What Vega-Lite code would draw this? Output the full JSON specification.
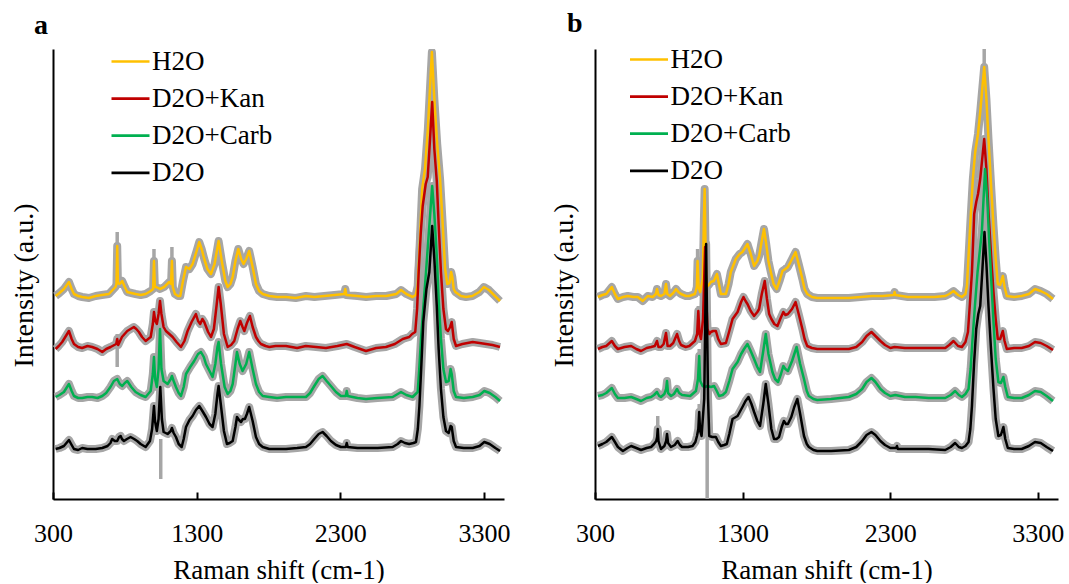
{
"$schema": "https://vega.github.io/schema/vega-lite/v6.json",
"autosize": {"type": "pad"},
"padding": {"left": 10, "top": 10, "right": 0, "bottom": 0},
"background": "white",
"bounds": "flush",
"spacing": 91,
"config": {
  "font": "Liberation Serif",
  "numberFormat": "d",
  "view": {"stroke": null},
  "axis": {"grid": false, "domainColor": "#000", "domainWidth": 2, "labelFont": "Liberation Serif", "titleFont": "Liberation Serif", "labelColor": "#000", "titleColor": "#000", "titleFontWeight": "normal"},
  "axisX": {"labelFontSize": 26, "titleFontSize": 27, "tickSize": -7, "tickWidth": 2, "tickColor": "#000", "labelPadding": 49, "labelBaseline": "alphabetic", "titleY": 79, "titleBaseline": "alphabetic", "labelFlush": false, "labelOverlap": false},
  "axisY": {"labels": false, "ticks": false, "titleFontSize": 28, "titleY": 236, "titleBaseline": "middle", "titleAngle": -90, "titleAlign": "center"},
  "legend": {"labelFont": "Liberation Serif", "labelColor": "#000", "labelFontSize": 27, "symbolType": "stroke", "symbolSize": 1444, "symbolStrokeWidth": 2.7, "rowPadding": 3.1, "labelOffset": 1, "padding": 0, "title": null},
  "title": {"font": "Liberation Serif", "fontSize": 28, "fontWeight": "bold", "color": "#000", "anchor": "start", "frame": "group", "baseline": "alphabetic", "offset": 1}
},
"resolve": {"scale": {"x": "independent", "y": "independent", "color": "independent"}, "legend": {"color": "independent"}},
"datasets": {
"a": [
{"s":"H2O","wn":318,"v":203},{"s":"H2O","wn":345,"v":206},{"s":"H2O","wn":376,"v":210},{"s":"H2O","wn":411,"v":217},{"s":"H2O","wn":430,"v":210},{"s":"H2O","wn":446,"v":205},{"s":"H2O","wn":475,"v":203},{"s":"H2O","wn":503,"v":202},{"s":"H2O","wn":550,"v":201},{"s":"H2O","wn":597,"v":203},{"s":"H2O","wn":640,"v":204},{"s":"H2O","wn":689,"v":205},{"s":"H2O","wn":715,"v":209},{"s":"H2O","wn":735,"v":212},{"s":"H2O","wn":742,"v":215},{"s":"H2O","wn":747,"v":253},{"s":"H2O","wn":752,"v":216},{"s":"H2O","wn":764,"v":215},{"s":"H2O","wn":782,"v":218},{"s":"H2O","wn":800,"v":212},{"s":"H2O","wn":817,"v":207},{"s":"H2O","wn":845,"v":206},{"s":"H2O","wn":875,"v":205},{"s":"H2O","wn":910,"v":204},{"s":"H2O","wn":945,"v":205},{"s":"H2O","wn":980,"v":208},{"s":"H2O","wn":997,"v":210},{"s":"H2O","wn":1003,"v":238},{"s":"H2O","wn":1009,"v":212},{"s":"H2O","wn":1019,"v":212},{"s":"H2O","wn":1045,"v":210},{"s":"H2O","wn":1074,"v":212},{"s":"H2O","wn":1109,"v":217},{"s":"H2O","wn":1122,"v":215},{"s":"H2O","wn":1128,"v":238},{"s":"H2O","wn":1134,"v":212},{"s":"H2O","wn":1149,"v":205},{"s":"H2O","wn":1170,"v":203},{"s":"H2O","wn":1186,"v":203},{"s":"H2O","wn":1205,"v":218},{"s":"H2O","wn":1226,"v":232},{"s":"H2O","wn":1250,"v":230},{"s":"H2O","wn":1272,"v":235},{"s":"H2O","wn":1300,"v":248},{"s":"H2O","wn":1318,"v":257},{"s":"H2O","wn":1335,"v":250},{"s":"H2O","wn":1353,"v":240},{"s":"H2O","wn":1375,"v":230},{"s":"H2O","wn":1400,"v":225},{"s":"H2O","wn":1425,"v":235},{"s":"H2O","wn":1453,"v":258},{"s":"H2O","wn":1475,"v":238},{"s":"H2O","wn":1500,"v":218},{"s":"H2O","wn":1516,"v":212},{"s":"H2O","wn":1535,"v":215},{"s":"H2O","wn":1551,"v":222},{"s":"H2O","wn":1570,"v":238},{"s":"H2O","wn":1590,"v":250},{"s":"H2O","wn":1610,"v":240},{"s":"H2O","wn":1627,"v":235},{"s":"H2O","wn":1645,"v":240},{"s":"H2O","wn":1666,"v":248},{"s":"H2O","wn":1690,"v":232},{"s":"H2O","wn":1713,"v":215},{"s":"H2O","wn":1735,"v":208},{"s":"H2O","wn":1760,"v":205},{"s":"H2O","wn":1806,"v":203},{"s":"H2O","wn":1860,"v":202},{"s":"H2O","wn":1922,"v":202},{"s":"H2O","wn":1990,"v":201},{"s":"H2O","wn":2061,"v":203},{"s":"H2O","wn":2120,"v":202},{"s":"H2O","wn":2189,"v":203},{"s":"H2O","wn":2260,"v":204},{"s":"H2O","wn":2328,"v":205},{"s":"H2O","wn":2335,"v":210},{"s":"H2O","wn":2342,"v":204},{"s":"H2O","wn":2420,"v":203},{"s":"H2O","wn":2480,"v":202},{"s":"H2O","wn":2549,"v":203},{"s":"H2O","wn":2620,"v":203},{"s":"H2O","wn":2690,"v":205},{"s":"H2O","wn":2723,"v":209},{"s":"H2O","wn":2760,"v":205},{"s":"H2O","wn":2804,"v":202},{"s":"H2O","wn":2825,"v":204},{"s":"H2O","wn":2839,"v":213},{"s":"H2O","wn":2855,"v":260},{"s":"H2O","wn":2870,"v":310},{"s":"H2O","wn":2890,"v":330},{"s":"H2O","wn":2910,"v":370},{"s":"H2O","wn":2938,"v":447},{"s":"H2O","wn":2955,"v":400},{"s":"H2O","wn":2975,"v":355},{"s":"H2O","wn":2995,"v":320},{"s":"H2O","wn":3015,"v":270},{"s":"H2O","wn":3030,"v":230},{"s":"H2O","wn":3045,"v":215},{"s":"H2O","wn":3060,"v":216},{"s":"H2O","wn":3072,"v":227},{"s":"H2O","wn":3080,"v":222},{"s":"H2O","wn":3090,"v":210},{"s":"H2O","wn":3101,"v":207},{"s":"H2O","wn":3140,"v":203},{"s":"H2O","wn":3175,"v":202},{"s":"H2O","wn":3220,"v":203},{"s":"H2O","wn":3268,"v":207},{"s":"H2O","wn":3300,"v":212},{"s":"H2O","wn":3335,"v":209},{"s":"H2O","wn":3370,"v":204},{"s":"H2O","wn":3412,"v":198},
{"s":"D2O+Kan","wn":318,"v":150},{"s":"D2O+Kan","wn":340,"v":153},{"s":"D2O+Kan","wn":364,"v":157},{"s":"D2O+Kan","wn":411,"v":168},{"s":"D2O+Kan","wn":430,"v":160},{"s":"D2O+Kan","wn":446,"v":155},{"s":"D2O+Kan","wn":475,"v":152},{"s":"D2O+Kan","wn":503,"v":151},{"s":"D2O+Kan","wn":540,"v":153},{"s":"D2O+Kan","wn":573,"v":152},{"s":"D2O+Kan","wn":610,"v":150},{"s":"D2O+Kan","wn":643,"v":147},{"s":"D2O+Kan","wn":670,"v":150},{"s":"D2O+Kan","wn":701,"v":152},{"s":"D2O+Kan","wn":740,"v":155},{"s":"D2O+Kan","wn":747,"v":160},{"s":"D2O+Kan","wn":754,"v":154},{"s":"D2O+Kan","wn":780,"v":162},{"s":"D2O+Kan","wn":817,"v":168},{"s":"D2O+Kan","wn":840,"v":170},{"s":"D2O+Kan","wn":863,"v":172},{"s":"D2O+Kan","wn":880,"v":170},{"s":"D2O+Kan","wn":898,"v":167},{"s":"D2O+Kan","wn":920,"v":162},{"s":"D2O+Kan","wn":945,"v":158},{"s":"D2O+Kan","wn":980,"v":162},{"s":"D2O+Kan","wn":995,"v":175},{"s":"D2O+Kan","wn":1003,"v":187},{"s":"D2O+Kan","wn":1012,"v":178},{"s":"D2O+Kan","wn":1023,"v":175},{"s":"D2O+Kan","wn":1035,"v":185},{"s":"D2O+Kan","wn":1045,"v":198},{"s":"D2O+Kan","wn":1055,"v":185},{"s":"D2O+Kan","wn":1070,"v":172},{"s":"D2O+Kan","wn":1086,"v":168},{"s":"D2O+Kan","wn":1110,"v":165},{"s":"D2O+Kan","wn":1133,"v":162},{"s":"D2O+Kan","wn":1160,"v":157},{"s":"D2O+Kan","wn":1191,"v":152},{"s":"D2O+Kan","wn":1215,"v":158},{"s":"D2O+Kan","wn":1237,"v":168},{"s":"D2O+Kan","wn":1265,"v":177},{"s":"D2O+Kan","wn":1295,"v":185},{"s":"D2O+Kan","wn":1310,"v":178},{"s":"D2O+Kan","wn":1325,"v":175},{"s":"D2O+Kan","wn":1340,"v":180},{"s":"D2O+Kan","wn":1353,"v":177},{"s":"D2O+Kan","wn":1380,"v":167},{"s":"D2O+Kan","wn":1400,"v":162},{"s":"D2O+Kan","wn":1420,"v":170},{"s":"D2O+Kan","wn":1440,"v":195},{"s":"D2O+Kan","wn":1453,"v":212},{"s":"D2O+Kan","wn":1468,"v":195},{"s":"D2O+Kan","wn":1490,"v":165},{"s":"D2O+Kan","wn":1516,"v":152},{"s":"D2O+Kan","wn":1540,"v":154},{"s":"D2O+Kan","wn":1562,"v":158},{"s":"D2O+Kan","wn":1585,"v":170},{"s":"D2O+Kan","wn":1604,"v":178},{"s":"D2O+Kan","wn":1620,"v":172},{"s":"D2O+Kan","wn":1632,"v":168},{"s":"D2O+Kan","wn":1650,"v":176},{"s":"D2O+Kan","wn":1671,"v":183},{"s":"D2O+Kan","wn":1690,"v":172},{"s":"D2O+Kan","wn":1713,"v":162},{"s":"D2O+Kan","wn":1730,"v":158},{"s":"D2O+Kan","wn":1748,"v":155},{"s":"D2O+Kan","wn":1780,"v":153},{"s":"D2O+Kan","wn":1806,"v":152},{"s":"D2O+Kan","wn":1850,"v":153},{"s":"D2O+Kan","wn":1922,"v":153},{"s":"D2O+Kan","wn":2000,"v":151},{"s":"D2O+Kan","wn":2060,"v":153},{"s":"D2O+Kan","wn":2131,"v":152},{"s":"D2O+Kan","wn":2200,"v":151},{"s":"D2O+Kan","wn":2280,"v":153},{"s":"D2O+Kan","wn":2345,"v":155},{"s":"D2O+Kan","wn":2400,"v":152},{"s":"D2O+Kan","wn":2479,"v":148},{"s":"D2O+Kan","wn":2550,"v":151},{"s":"D2O+Kan","wn":2618,"v":152},{"s":"D2O+Kan","wn":2680,"v":155},{"s":"D2O+Kan","wn":2735,"v":160},{"s":"D2O+Kan","wn":2780,"v":162},{"s":"D2O+Kan","wn":2800,"v":165},{"s":"D2O+Kan","wn":2822,"v":167},{"s":"D2O+Kan","wn":2835,"v":190},{"s":"D2O+Kan","wn":2846,"v":227},{"s":"D2O+Kan","wn":2860,"v":265},{"s":"D2O+Kan","wn":2874,"v":293},{"s":"D2O+Kan","wn":2895,"v":315},{"s":"D2O+Kan","wn":2909,"v":322},{"s":"D2O+Kan","wn":2925,"v":360},{"s":"D2O+Kan","wn":2940,"v":397},{"s":"D2O+Kan","wn":2955,"v":350},{"s":"D2O+Kan","wn":2972,"v":318},{"s":"D2O+Kan","wn":2985,"v":275},{"s":"D2O+Kan","wn":3001,"v":227},{"s":"D2O+Kan","wn":3018,"v":190},{"s":"D2O+Kan","wn":3036,"v":170},{"s":"D2O+Kan","wn":3050,"v":168},{"s":"D2O+Kan","wn":3065,"v":172},{"s":"D2O+Kan","wn":3076,"v":177},{"s":"D2O+Kan","wn":3090,"v":160},{"s":"D2O+Kan","wn":3106,"v":153},{"s":"D2O+Kan","wn":3150,"v":155},{"s":"D2O+Kan","wn":3222,"v":157},{"s":"D2O+Kan","wn":3270,"v":156},{"s":"D2O+Kan","wn":3315,"v":155},{"s":"D2O+Kan","wn":3360,"v":154},{"s":"D2O+Kan","wn":3412,"v":152},
{"s":"D2O+Carb","wn":318,"v":102},{"s":"D2O+Carb","wn":345,"v":104},{"s":"D2O+Carb","wn":376,"v":107},{"s":"D2O+Carb","wn":411,"v":115},{"s":"D2O+Carb","wn":430,"v":108},{"s":"D2O+Carb","wn":446,"v":103},{"s":"D2O+Carb","wn":475,"v":101},{"s":"D2O+Carb","wn":503,"v":101},{"s":"D2O+Carb","wn":540,"v":102},{"s":"D2O+Carb","wn":573,"v":102},{"s":"D2O+Carb","wn":610,"v":101},{"s":"D2O+Carb","wn":643,"v":103},{"s":"D2O+Carb","wn":670,"v":106},{"s":"D2O+Carb","wn":700,"v":112},{"s":"D2O+Carb","wn":724,"v":118},{"s":"D2O+Carb","wn":747,"v":120},{"s":"D2O+Carb","wn":765,"v":115},{"s":"D2O+Carb","wn":782,"v":113},{"s":"D2O+Carb","wn":800,"v":116},{"s":"D2O+Carb","wn":817,"v":118},{"s":"D2O+Carb","wn":845,"v":112},{"s":"D2O+Carb","wn":875,"v":107},{"s":"D2O+Carb","wn":910,"v":104},{"s":"D2O+Carb","wn":945,"v":102},{"s":"D2O+Carb","wn":980,"v":108},{"s":"D2O+Carb","wn":995,"v":125},{"s":"D2O+Carb","wn":1003,"v":142},{"s":"D2O+Carb","wn":1011,"v":120},{"s":"D2O+Carb","wn":1023,"v":112},{"s":"D2O+Carb","wn":1035,"v":130},{"s":"D2O+Carb","wn":1045,"v":170},{"s":"D2O+Carb","wn":1055,"v":130},{"s":"D2O+Carb","wn":1070,"v":118},{"s":"D2O+Carb","wn":1098,"v":115},{"s":"D2O+Carb","wn":1120,"v":120},{"s":"D2O+Carb","wn":1128,"v":123},{"s":"D2O+Carb","wn":1140,"v":118},{"s":"D2O+Carb","wn":1156,"v":112},{"s":"D2O+Carb","wn":1175,"v":106},{"s":"D2O+Carb","wn":1191,"v":103},{"s":"D2O+Carb","wn":1210,"v":112},{"s":"D2O+Carb","wn":1226,"v":125},{"s":"D2O+Carb","wn":1255,"v":132},{"s":"D2O+Carb","wn":1283,"v":138},{"s":"D2O+Carb","wn":1310,"v":145},{"s":"D2O+Carb","wn":1330,"v":147},{"s":"D2O+Carb","wn":1350,"v":142},{"s":"D2O+Carb","wn":1365,"v":135},{"s":"D2O+Carb","wn":1390,"v":128},{"s":"D2O+Carb","wn":1411,"v":122},{"s":"D2O+Carb","wn":1430,"v":135},{"s":"D2O+Carb","wn":1445,"v":152},{"s":"D2O+Carb","wn":1453,"v":157},{"s":"D2O+Carb","wn":1470,"v":135},{"s":"D2O+Carb","wn":1495,"v":112},{"s":"D2O+Carb","wn":1516,"v":105},{"s":"D2O+Carb","wn":1535,"v":108},{"s":"D2O+Carb","wn":1551,"v":115},{"s":"D2O+Carb","wn":1570,"v":135},{"s":"D2O+Carb","wn":1581,"v":147},{"s":"D2O+Carb","wn":1600,"v":135},{"s":"D2O+Carb","wn":1620,"v":128},{"s":"D2O+Carb","wn":1645,"v":135},{"s":"D2O+Carb","wn":1666,"v":147},{"s":"D2O+Carb","wn":1690,"v":130},{"s":"D2O+Carb","wn":1713,"v":115},{"s":"D2O+Carb","wn":1735,"v":107},{"s":"D2O+Carb","wn":1760,"v":103},{"s":"D2O+Carb","wn":1806,"v":102},{"s":"D2O+Carb","wn":1860,"v":101},{"s":"D2O+Carb","wn":1922,"v":102},{"s":"D2O+Carb","wn":2000,"v":102},{"s":"D2O+Carb","wn":2061,"v":102},{"s":"D2O+Carb","wn":2090,"v":106},{"s":"D2O+Carb","wn":2119,"v":113},{"s":"D2O+Carb","wn":2150,"v":120},{"s":"D2O+Carb","wn":2177,"v":123},{"s":"D2O+Carb","wn":2205,"v":118},{"s":"D2O+Carb","wn":2235,"v":113},{"s":"D2O+Carb","wn":2270,"v":107},{"s":"D2O+Carb","wn":2305,"v":103},{"s":"D2O+Carb","wn":2338,"v":103},{"s":"D2O+Carb","wn":2345,"v":108},{"s":"D2O+Carb","wn":2352,"v":103},{"s":"D2O+Carb","wn":2420,"v":101},{"s":"D2O+Carb","wn":2479,"v":100},{"s":"D2O+Carb","wn":2560,"v":101},{"s":"D2O+Carb","wn":2665,"v":102},{"s":"D2O+Carb","wn":2700,"v":105},{"s":"D2O+Carb","wn":2723,"v":107},{"s":"D2O+Carb","wn":2760,"v":104},{"s":"D2O+Carb","wn":2804,"v":102},{"s":"D2O+Carb","wn":2839,"v":107},{"s":"D2O+Carb","wn":2850,"v":130},{"s":"D2O+Carb","wn":2862,"v":160},{"s":"D2O+Carb","wn":2880,"v":195},{"s":"D2O+Carb","wn":2897,"v":227},{"s":"D2O+Carb","wn":2920,"v":273},{"s":"D2O+Carb","wn":2940,"v":313},{"s":"D2O+Carb","wn":2955,"v":285},{"s":"D2O+Carb","wn":2972,"v":243},{"s":"D2O+Carb","wn":2985,"v":200},{"s":"D2O+Carb","wn":3001,"v":160},{"s":"D2O+Carb","wn":3018,"v":130},{"s":"D2O+Carb","wn":3036,"v":117},{"s":"D2O+Carb","wn":3055,"v":118},{"s":"D2O+Carb","wn":3068,"v":130},{"s":"D2O+Carb","wn":3076,"v":125},{"s":"D2O+Carb","wn":3090,"v":108},{"s":"D2O+Carb","wn":3106,"v":102},{"s":"D2O+Carb","wn":3160,"v":101},{"s":"D2O+Carb","wn":3222,"v":102},{"s":"D2O+Carb","wn":3270,"v":104},{"s":"D2O+Carb","wn":3303,"v":108},{"s":"D2O+Carb","wn":3340,"v":106},{"s":"D2O+Carb","wn":3380,"v":102},{"s":"D2O+Carb","wn":3412,"v":98},
{"s":"D2O","wn":318,"v":50},{"s":"D2O","wn":345,"v":51},{"s":"D2O","wn":376,"v":53},{"s":"D2O","wn":411,"v":59},{"s":"D2O","wn":430,"v":54},{"s":"D2O","wn":446,"v":50},{"s":"D2O","wn":475,"v":49},{"s":"D2O","wn":503,"v":51},{"s":"D2O","wn":540,"v":50},{"s":"D2O","wn":597,"v":50},{"s":"D2O","wn":643,"v":51},{"s":"D2O","wn":680,"v":53},{"s":"D2O","wn":700,"v":56},{"s":"D2O","wn":712,"v":60},{"s":"D2O","wn":730,"v":58},{"s":"D2O","wn":747,"v":58},{"s":"D2O","wn":760,"v":62},{"s":"D2O","wn":771,"v":63},{"s":"D2O","wn":780,"v":60},{"s":"D2O","wn":794,"v":58},{"s":"D2O","wn":815,"v":60},{"s":"D2O","wn":840,"v":62},{"s":"D2O","wn":865,"v":60},{"s":"D2O","wn":886,"v":58},{"s":"D2O","wn":910,"v":55},{"s":"D2O","wn":945,"v":52},{"s":"D2O","wn":975,"v":58},{"s":"D2O","wn":990,"v":70},{"s":"D2O","wn":1003,"v":93},{"s":"D2O","wn":1010,"v":78},{"s":"D2O","wn":1023,"v":68},{"s":"D2O","wn":1035,"v":80},{"s":"D2O","wn":1047,"v":112},{"s":"D2O","wn":1058,"v":80},{"s":"D2O","wn":1070,"v":67},{"s":"D2O","wn":1098,"v":65},{"s":"D2O","wn":1120,"v":68},{"s":"D2O","wn":1128,"v":71},{"s":"D2O","wn":1140,"v":66},{"s":"D2O","wn":1156,"v":62},{"s":"D2O","wn":1175,"v":55},{"s":"D2O","wn":1196,"v":52},{"s":"D2O","wn":1210,"v":60},{"s":"D2O","wn":1226,"v":72},{"s":"D2O","wn":1250,"v":79},{"s":"D2O","wn":1272,"v":83},{"s":"D2O","wn":1295,"v":89},{"s":"D2O","wn":1318,"v":93},{"s":"D2O","wn":1340,"v":88},{"s":"D2O","wn":1365,"v":82},{"s":"D2O","wn":1390,"v":75},{"s":"D2O","wn":1411,"v":72},{"s":"D2O","wn":1430,"v":85},{"s":"D2O","wn":1445,"v":105},{"s":"D2O","wn":1453,"v":113},{"s":"D2O","wn":1468,"v":95},{"s":"D2O","wn":1490,"v":68},{"s":"D2O","wn":1511,"v":55},{"s":"D2O","wn":1530,"v":56},{"s":"D2O","wn":1551,"v":58},{"s":"D2O","wn":1570,"v":72},{"s":"D2O","wn":1581,"v":82},{"s":"D2O","wn":1595,"v":79},{"s":"D2O","wn":1609,"v":77},{"s":"D2O","wn":1622,"v":80},{"s":"D2O","wn":1636,"v":80},{"s":"D2O","wn":1650,"v":85},{"s":"D2O","wn":1666,"v":92},{"s":"D2O","wn":1690,"v":78},{"s":"D2O","wn":1713,"v":62},{"s":"D2O","wn":1735,"v":55},{"s":"D2O","wn":1760,"v":52},{"s":"D2O","wn":1806,"v":50},{"s":"D2O","wn":1860,"v":50},{"s":"D2O","wn":1922,"v":50},{"s":"D2O","wn":2000,"v":51},{"s":"D2O","wn":2061,"v":52},{"s":"D2O","wn":2090,"v":55},{"s":"D2O","wn":2119,"v":60},{"s":"D2O","wn":2150,"v":65},{"s":"D2O","wn":2177,"v":67},{"s":"D2O","wn":2205,"v":63},{"s":"D2O","wn":2235,"v":58},{"s":"D2O","wn":2270,"v":54},{"s":"D2O","wn":2305,"v":52},{"s":"D2O","wn":2338,"v":52},{"s":"D2O","wn":2345,"v":56},{"s":"D2O","wn":2352,"v":52},{"s":"D2O","wn":2420,"v":51},{"s":"D2O","wn":2479,"v":51},{"s":"D2O","wn":2560,"v":51},{"s":"D2O","wn":2665,"v":52},{"s":"D2O","wn":2700,"v":55},{"s":"D2O","wn":2723,"v":58},{"s":"D2O","wn":2750,"v":56},{"s":"D2O","wn":2780,"v":55},{"s":"D2O","wn":2810,"v":56},{"s":"D2O","wn":2827,"v":57},{"s":"D2O","wn":2840,"v":70},{"s":"D2O","wn":2851,"v":93},{"s":"D2O","wn":2865,"v":135},{"s":"D2O","wn":2878,"v":177},{"s":"D2O","wn":2900,"v":210},{"s":"D2O","wn":2920,"v":227},{"s":"D2O","wn":2940,"v":273},{"s":"D2O","wn":2955,"v":240},{"s":"D2O","wn":2972,"v":193},{"s":"D2O","wn":2985,"v":150},{"s":"D2O","wn":3001,"v":110},{"s":"D2O","wn":3018,"v":82},{"s":"D2O","wn":3036,"v":68},{"s":"D2O","wn":3055,"v":66},{"s":"D2O","wn":3068,"v":73},{"s":"D2O","wn":3076,"v":72},{"s":"D2O","wn":3090,"v":58},{"s":"D2O","wn":3106,"v":52},{"s":"D2O","wn":3160,"v":51},{"s":"D2O","wn":3222,"v":51},{"s":"D2O","wn":3270,"v":53},{"s":"D2O","wn":3303,"v":57},{"s":"D2O","wn":3340,"v":55},{"s":"D2O","wn":3380,"v":51},{"s":"D2O","wn":3412,"v":48}
],
"sa": [
{"s":"H2O","wn":747,"lo":250,"hi":267},{"s":"H2O","wn":1003,"lo":235,"hi":250},{"s":"H2O","wn":1128,"lo":235,"hi":252},{"s":"H2O","wn":2938,"lo":440,"hi":450},{"s":"D2O+Kan","wn":747,"lo":132,"hi":165},{"s":"D2O","wn":1050,"lo":20,"hi":60}
],
"b": [
{"s":"H2O","wn":320,"v":202},{"s":"H2O","wn":350,"v":204},{"s":"H2O","wn":376,"v":205},{"s":"H2O","wn":414,"v":212},{"s":"H2O","wn":435,"v":205},{"s":"H2O","wn":455,"v":200},{"s":"H2O","wn":490,"v":202},{"s":"H2O","wn":522,"v":203},{"s":"H2O","wn":560,"v":202},{"s":"H2O","wn":590,"v":202},{"s":"H2O","wn":624,"v":198},{"s":"H2O","wn":657,"v":203},{"s":"H2O","wn":691,"v":202},{"s":"H2O","wn":712,"v":205},{"s":"H2O","wn":720,"v":210},{"s":"H2O","wn":730,"v":204},{"s":"H2O","wn":747,"v":203},{"s":"H2O","wn":770,"v":205},{"s":"H2O","wn":781,"v":215},{"s":"H2O","wn":790,"v":205},{"s":"H2O","wn":808,"v":203},{"s":"H2O","wn":830,"v":206},{"s":"H2O","wn":849,"v":210},{"s":"H2O","wn":865,"v":207},{"s":"H2O","wn":883,"v":205},{"s":"H2O","wn":915,"v":203},{"s":"H2O","wn":939,"v":203},{"s":"H2O","wn":977,"v":205},{"s":"H2O","wn":990,"v":212},{"s":"H2O","wn":995,"v":238},{"s":"H2O","wn":1002,"v":212},{"s":"H2O","wn":1013,"v":207},{"s":"H2O","wn":1030,"v":220},{"s":"H2O","wn":1038,"v":280},{"s":"H2O","wn":1043,"v":310},{"s":"H2O","wn":1049,"v":250},{"s":"H2O","wn":1055,"v":212},{"s":"H2O","wn":1070,"v":214},{"s":"H2O","wn":1085,"v":217},{"s":"H2O","wn":1105,"v":218},{"s":"H2O","wn":1126,"v":225},{"s":"H2O","wn":1140,"v":215},{"s":"H2O","wn":1153,"v":205},{"s":"H2O","wn":1187,"v":205},{"s":"H2O","wn":1205,"v":215},{"s":"H2O","wn":1220,"v":227},{"s":"H2O","wn":1254,"v":240},{"s":"H2O","wn":1280,"v":245},{"s":"H2O","wn":1299,"v":247},{"s":"H2O","wn":1320,"v":252},{"s":"H2O","wn":1333,"v":255},{"s":"H2O","wn":1355,"v":245},{"s":"H2O","wn":1378,"v":233},{"s":"H2O","wn":1400,"v":238},{"s":"H2O","wn":1412,"v":243},{"s":"H2O","wn":1430,"v":258},{"s":"H2O","wn":1445,"v":270},{"s":"H2O","wn":1460,"v":255},{"s":"H2O","wn":1475,"v":238},{"s":"H2O","wn":1491,"v":227},{"s":"H2O","wn":1510,"v":215},{"s":"H2O","wn":1531,"v":210},{"s":"H2O","wn":1550,"v":218},{"s":"H2O","wn":1570,"v":228},{"s":"H2O","wn":1590,"v":230},{"s":"H2O","wn":1607,"v":232},{"s":"H2O","wn":1635,"v":240},{"s":"H2O","wn":1659,"v":247},{"s":"H2O","wn":1680,"v":235},{"s":"H2O","wn":1705,"v":220},{"s":"H2O","wn":1720,"v":210},{"s":"H2O","wn":1738,"v":205},{"s":"H2O","wn":1770,"v":202},{"s":"H2O","wn":1806,"v":201},{"s":"H2O","wn":1900,"v":201},{"s":"H2O","wn":2020,"v":201},{"s":"H2O","wn":2100,"v":202},{"s":"H2O","wn":2178,"v":203},{"s":"H2O","wn":2250,"v":203},{"s":"H2O","wn":2324,"v":204},{"s":"H2O","wn":2330,"v":207},{"s":"H2O","wn":2336,"v":204},{"s":"H2O","wn":2420,"v":202},{"s":"H2O","wn":2516,"v":202},{"s":"H2O","wn":2600,"v":202},{"s":"H2O","wn":2673,"v":203},{"s":"H2O","wn":2700,"v":205},{"s":"H2O","wn":2729,"v":208},{"s":"H2O","wn":2760,"v":204},{"s":"H2O","wn":2786,"v":202},{"s":"H2O","wn":2810,"v":205},{"s":"H2O","wn":2820,"v":213},{"s":"H2O","wn":2842,"v":273},{"s":"H2O","wn":2860,"v":320},{"s":"H2O","wn":2876,"v":347},{"s":"H2O","wn":2895,"v":365},{"s":"H2O","wn":2910,"v":387},{"s":"H2O","wn":2937,"v":432},{"s":"H2O","wn":2952,"v":400},{"s":"H2O","wn":2966,"v":360},{"s":"H2O","wn":2985,"v":310},{"s":"H2O","wn":3000,"v":273},{"s":"H2O","wn":3015,"v":240},{"s":"H2O","wn":3029,"v":215},{"s":"H2O","wn":3045,"v":214},{"s":"H2O","wn":3063,"v":223},{"s":"H2O","wn":3075,"v":212},{"s":"H2O","wn":3090,"v":203},{"s":"H2O","wn":3140,"v":202},{"s":"H2O","wn":3191,"v":203},{"s":"H2O","wn":3240,"v":205},{"s":"H2O","wn":3281,"v":210},{"s":"H2O","wn":3320,"v":208},{"s":"H2O","wn":3360,"v":205},{"s":"H2O","wn":3403,"v":200},
{"s":"D2O+Kan","wn":320,"v":150},{"s":"D2O+Kan","wn":350,"v":152},{"s":"D2O+Kan","wn":376,"v":153},{"s":"D2O+Kan","wn":414,"v":158},{"s":"D2O+Kan","wn":435,"v":153},{"s":"D2O+Kan","wn":455,"v":150},{"s":"D2O+Kan","wn":500,"v":152},{"s":"D2O+Kan","wn":545,"v":153},{"s":"D2O+Kan","wn":580,"v":150},{"s":"D2O+Kan","wn":612,"v":148},{"s":"D2O+Kan","wn":650,"v":151},{"s":"D2O+Kan","wn":680,"v":152},{"s":"D2O+Kan","wn":705,"v":153},{"s":"D2O+Kan","wn":720,"v":158},{"s":"D2O+Kan","wn":730,"v":152},{"s":"D2O+Kan","wn":747,"v":152},{"s":"D2O+Kan","wn":765,"v":155},{"s":"D2O+Kan","wn":781,"v":166},{"s":"D2O+Kan","wn":792,"v":153},{"s":"D2O+Kan","wn":808,"v":153},{"s":"D2O+Kan","wn":830,"v":156},{"s":"D2O+Kan","wn":856,"v":165},{"s":"D2O+Kan","wn":870,"v":158},{"s":"D2O+Kan","wn":883,"v":154},{"s":"D2O+Kan","wn":915,"v":152},{"s":"D2O+Kan","wn":939,"v":153},{"s":"D2O+Kan","wn":977,"v":158},{"s":"D2O+Kan","wn":992,"v":165},{"s":"D2O+Kan","wn":1000,"v":188},{"s":"D2O+Kan","wn":1008,"v":165},{"s":"D2O+Kan","wn":1018,"v":160},{"s":"D2O+Kan","wn":1032,"v":180},{"s":"D2O+Kan","wn":1046,"v":252},{"s":"D2O+Kan","wn":1054,"v":200},{"s":"D2O+Kan","wn":1062,"v":170},{"s":"D2O+Kan","wn":1075,"v":165},{"s":"D2O+Kan","wn":1085,"v":167},{"s":"D2O+Kan","wn":1100,"v":168},{"s":"D2O+Kan","wn":1119,"v":168},{"s":"D2O+Kan","wn":1135,"v":160},{"s":"D2O+Kan","wn":1153,"v":155},{"s":"D2O+Kan","wn":1187,"v":156},{"s":"D2O+Kan","wn":1210,"v":168},{"s":"D2O+Kan","wn":1232,"v":180},{"s":"D2O+Kan","wn":1266,"v":187},{"s":"D2O+Kan","wn":1290,"v":197},{"s":"D2O+Kan","wn":1306,"v":202},{"s":"D2O+Kan","wn":1320,"v":198},{"s":"D2O+Kan","wn":1333,"v":195},{"s":"D2O+Kan","wn":1355,"v":188},{"s":"D2O+Kan","wn":1378,"v":183},{"s":"D2O+Kan","wn":1400,"v":187},{"s":"D2O+Kan","wn":1412,"v":190},{"s":"D2O+Kan","wn":1430,"v":205},{"s":"D2O+Kan","wn":1450,"v":218},{"s":"D2O+Kan","wn":1465,"v":200},{"s":"D2O+Kan","wn":1480,"v":185},{"s":"D2O+Kan","wn":1495,"v":180},{"s":"D2O+Kan","wn":1515,"v":175},{"s":"D2O+Kan","wn":1536,"v":173},{"s":"D2O+Kan","wn":1555,"v":180},{"s":"D2O+Kan","wn":1576,"v":187},{"s":"D2O+Kan","wn":1590,"v":184},{"s":"D2O+Kan","wn":1607,"v":185},{"s":"D2O+Kan","wn":1635,"v":190},{"s":"D2O+Kan","wn":1659,"v":197},{"s":"D2O+Kan","wn":1680,"v":185},{"s":"D2O+Kan","wn":1705,"v":170},{"s":"D2O+Kan","wn":1720,"v":160},{"s":"D2O+Kan","wn":1738,"v":153},{"s":"D2O+Kan","wn":1770,"v":151},{"s":"D2O+Kan","wn":1806,"v":150},{"s":"D2O+Kan","wn":1900,"v":150},{"s":"D2O+Kan","wn":2020,"v":150},{"s":"D2O+Kan","wn":2070,"v":152},{"s":"D2O+Kan","wn":2110,"v":157},{"s":"D2O+Kan","wn":2140,"v":163},{"s":"D2O+Kan","wn":2173,"v":167},{"s":"D2O+Kan","wn":2200,"v":163},{"s":"D2O+Kan","wn":2234,"v":158},{"s":"D2O+Kan","wn":2265,"v":154},{"s":"D2O+Kan","wn":2301,"v":151},{"s":"D2O+Kan","wn":2330,"v":152},{"s":"D2O+Kan","wn":2400,"v":151},{"s":"D2O+Kan","wn":2471,"v":151},{"s":"D2O+Kan","wn":2560,"v":151},{"s":"D2O+Kan","wn":2673,"v":151},{"s":"D2O+Kan","wn":2700,"v":154},{"s":"D2O+Kan","wn":2729,"v":158},{"s":"D2O+Kan","wn":2760,"v":153},{"s":"D2O+Kan","wn":2786,"v":152},{"s":"D2O+Kan","wn":2810,"v":157},{"s":"D2O+Kan","wn":2827,"v":167},{"s":"D2O+Kan","wn":2840,"v":195},{"s":"D2O+Kan","wn":2854,"v":227},{"s":"D2O+Kan","wn":2869,"v":285},{"s":"D2O+Kan","wn":2883,"v":297},{"s":"D2O+Kan","wn":2895,"v":305},{"s":"D2O+Kan","wn":2910,"v":320},{"s":"D2O+Kan","wn":2937,"v":360},{"s":"D2O+Kan","wn":2952,"v":330},{"s":"D2O+Kan","wn":2966,"v":287},{"s":"D2O+Kan","wn":2985,"v":240},{"s":"D2O+Kan","wn":3000,"v":207},{"s":"D2O+Kan","wn":3015,"v":180},{"s":"D2O+Kan","wn":3029,"v":160},{"s":"D2O+Kan","wn":3045,"v":160},{"s":"D2O+Kan","wn":3063,"v":168},{"s":"D2O+Kan","wn":3075,"v":158},{"s":"D2O+Kan","wn":3090,"v":150},{"s":"D2O+Kan","wn":3140,"v":151},{"s":"D2O+Kan","wn":3191,"v":151},{"s":"D2O+Kan","wn":3240,"v":153},{"s":"D2O+Kan","wn":3281,"v":157},{"s":"D2O+Kan","wn":3320,"v":156},{"s":"D2O+Kan","wn":3360,"v":153},{"s":"D2O+Kan","wn":3403,"v":149},
{"s":"D2O+Carb","wn":320,"v":103},{"s":"D2O+Carb","wn":350,"v":104},{"s":"D2O+Carb","wn":376,"v":106},{"s":"D2O+Carb","wn":414,"v":111},{"s":"D2O+Carb","wn":435,"v":105},{"s":"D2O+Carb","wn":455,"v":101},{"s":"D2O+Carb","wn":500,"v":101},{"s":"D2O+Carb","wn":545,"v":102},{"s":"D2O+Carb","wn":580,"v":100},{"s":"D2O+Carb","wn":612,"v":98},{"s":"D2O+Carb","wn":650,"v":101},{"s":"D2O+Carb","wn":680,"v":102},{"s":"D2O+Carb","wn":700,"v":104},{"s":"D2O+Carb","wn":720,"v":107},{"s":"D2O+Carb","wn":735,"v":103},{"s":"D2O+Carb","wn":747,"v":102},{"s":"D2O+Carb","wn":770,"v":105},{"s":"D2O+Carb","wn":782,"v":110},{"s":"D2O+Carb","wn":788,"v":118},{"s":"D2O+Carb","wn":795,"v":106},{"s":"D2O+Carb","wn":815,"v":103},{"s":"D2O+Carb","wn":835,"v":105},{"s":"D2O+Carb","wn":856,"v":110},{"s":"D2O+Carb","wn":870,"v":106},{"s":"D2O+Carb","wn":890,"v":104},{"s":"D2O+Carb","wn":945,"v":103},{"s":"D2O+Carb","wn":984,"v":108},{"s":"D2O+Carb","wn":998,"v":120},{"s":"D2O+Carb","wn":1006,"v":143},{"s":"D2O+Carb","wn":1013,"v":118},{"s":"D2O+Carb","wn":1029,"v":113},{"s":"D2O+Carb","wn":1045,"v":112},{"s":"D2O+Carb","wn":1063,"v":113},{"s":"D2O+Carb","wn":1085,"v":112},{"s":"D2O+Carb","wn":1107,"v":113},{"s":"D2O+Carb","wn":1125,"v":108},{"s":"D2O+Carb","wn":1141,"v":103},{"s":"D2O+Carb","wn":1165,"v":104},{"s":"D2O+Carb","wn":1187,"v":107},{"s":"D2O+Carb","wn":1210,"v":118},{"s":"D2O+Carb","wn":1232,"v":130},{"s":"D2O+Carb","wn":1266,"v":137},{"s":"D2O+Carb","wn":1290,"v":145},{"s":"D2O+Carb","wn":1310,"v":150},{"s":"D2O+Carb","wn":1333,"v":155},{"s":"D2O+Carb","wn":1355,"v":148},{"s":"D2O+Carb","wn":1378,"v":140},{"s":"D2O+Carb","wn":1400,"v":132},{"s":"D2O+Carb","wn":1418,"v":127},{"s":"D2O+Carb","wn":1440,"v":148},{"s":"D2O+Carb","wn":1457,"v":165},{"s":"D2O+Carb","wn":1475,"v":145},{"s":"D2O+Carb","wn":1502,"v":127},{"s":"D2O+Carb","wn":1520,"v":120},{"s":"D2O+Carb","wn":1540,"v":117},{"s":"D2O+Carb","wn":1560,"v":125},{"s":"D2O+Carb","wn":1576,"v":133},{"s":"D2O+Carb","wn":1590,"v":130},{"s":"D2O+Carb","wn":1607,"v":128},{"s":"D2O+Carb","wn":1635,"v":138},{"s":"D2O+Carb","wn":1666,"v":152},{"s":"D2O+Carb","wn":1690,"v":135},{"s":"D2O+Carb","wn":1716,"v":120},{"s":"D2O+Carb","wn":1735,"v":108},{"s":"D2O+Carb","wn":1749,"v":103},{"s":"D2O+Carb","wn":1780,"v":100},{"s":"D2O+Carb","wn":1806,"v":99},{"s":"D2O+Carb","wn":1900,"v":100},{"s":"D2O+Carb","wn":2020,"v":102},{"s":"D2O+Carb","wn":2070,"v":105},{"s":"D2O+Carb","wn":2110,"v":110},{"s":"D2O+Carb","wn":2140,"v":117},{"s":"D2O+Carb","wn":2173,"v":121},{"s":"D2O+Carb","wn":2200,"v":117},{"s":"D2O+Carb","wn":2234,"v":110},{"s":"D2O+Carb","wn":2265,"v":106},{"s":"D2O+Carb","wn":2301,"v":103},{"s":"D2O+Carb","wn":2335,"v":104},{"s":"D2O+Carb","wn":2400,"v":102},{"s":"D2O+Carb","wn":2471,"v":102},{"s":"D2O+Carb","wn":2560,"v":101},{"s":"D2O+Carb","wn":2673,"v":101},{"s":"D2O+Carb","wn":2710,"v":104},{"s":"D2O+Carb","wn":2740,"v":108},{"s":"D2O+Carb","wn":2765,"v":104},{"s":"D2O+Carb","wn":2786,"v":102},{"s":"D2O+Carb","wn":2810,"v":105},{"s":"D2O+Carb","wn":2831,"v":110},{"s":"D2O+Carb","wn":2845,"v":130},{"s":"D2O+Carb","wn":2858,"v":160},{"s":"D2O+Carb","wn":2875,"v":195},{"s":"D2O+Carb","wn":2892,"v":227},{"s":"D2O+Carb","wn":2921,"v":267},{"s":"D2O+Carb","wn":2943,"v":330},{"s":"D2O+Carb","wn":2958,"v":300},{"s":"D2O+Carb","wn":2970,"v":260},{"s":"D2O+Carb","wn":2985,"v":218},{"s":"D2O+Carb","wn":3000,"v":177},{"s":"D2O+Carb","wn":3015,"v":140},{"s":"D2O+Carb","wn":3033,"v":117},{"s":"D2O+Carb","wn":3050,"v":116},{"s":"D2O+Carb","wn":3067,"v":122},{"s":"D2O+Carb","wn":3080,"v":112},{"s":"D2O+Carb","wn":3097,"v":102},{"s":"D2O+Carb","wn":3140,"v":101},{"s":"D2O+Carb","wn":3191,"v":101},{"s":"D2O+Carb","wn":3240,"v":104},{"s":"D2O+Carb","wn":3281,"v":108},{"s":"D2O+Carb","wn":3320,"v":107},{"s":"D2O+Carb","wn":3360,"v":103},{"s":"D2O+Carb","wn":3403,"v":98},
{"s":"D2O","wn":320,"v":53},{"s":"D2O","wn":350,"v":55},{"s":"D2O","wn":376,"v":57},{"s":"D2O","wn":414,"v":62},{"s":"D2O","wn":435,"v":57},{"s":"D2O","wn":455,"v":52},{"s":"D2O","wn":489,"v":48},{"s":"D2O","wn":520,"v":51},{"s":"D2O","wn":545,"v":53},{"s":"D2O","wn":580,"v":51},{"s":"D2O","wn":612,"v":49},{"s":"D2O","wn":650,"v":51},{"s":"D2O","wn":680,"v":52},{"s":"D2O","wn":700,"v":55},{"s":"D2O","wn":715,"v":58},{"s":"D2O","wn":721,"v":62},{"s":"D2O","wn":725,"v":70},{"s":"D2O","wn":730,"v":58},{"s":"D2O","wn":747,"v":50},{"s":"D2O","wn":770,"v":53},{"s":"D2O","wn":782,"v":58},{"s":"D2O","wn":788,"v":65},{"s":"D2O","wn":795,"v":56},{"s":"D2O","wn":815,"v":52},{"s":"D2O","wn":840,"v":54},{"s":"D2O","wn":860,"v":58},{"s":"D2O","wn":875,"v":54},{"s":"D2O","wn":890,"v":52},{"s":"D2O","wn":930,"v":52},{"s":"D2O","wn":961,"v":53},{"s":"D2O","wn":980,"v":57},{"s":"D2O","wn":991,"v":63},{"s":"D2O","wn":1000,"v":70},{"s":"D2O","wn":1006,"v":87},{"s":"D2O","wn":1012,"v":68},{"s":"D2O","wn":1022,"v":63},{"s":"D2O","wn":1040,"v":100},{"s":"D2O","wn":1047,"v":180},{"s":"D2O","wn":1053,"v":255},{"s":"D2O","wn":1059,"v":180},{"s":"D2O","wn":1066,"v":100},{"s":"D2O","wn":1074,"v":63},{"s":"D2O","wn":1095,"v":62},{"s":"D2O","wn":1119,"v":62},{"s":"D2O","wn":1135,"v":57},{"s":"D2O","wn":1153,"v":53},{"s":"D2O","wn":1175,"v":54},{"s":"D2O","wn":1193,"v":55},{"s":"D2O","wn":1210,"v":65},{"s":"D2O","wn":1232,"v":80},{"s":"D2O","wn":1266,"v":83},{"s":"D2O","wn":1299,"v":92},{"s":"D2O","wn":1320,"v":98},{"s":"D2O","wn":1340,"v":102},{"s":"D2O","wn":1360,"v":95},{"s":"D2O","wn":1378,"v":87},{"s":"D2O","wn":1400,"v":78},{"s":"D2O","wn":1418,"v":73},{"s":"D2O","wn":1440,"v":95},{"s":"D2O","wn":1457,"v":115},{"s":"D2O","wn":1475,"v":95},{"s":"D2O","wn":1495,"v":70},{"s":"D2O","wn":1513,"v":60},{"s":"D2O","wn":1530,"v":60},{"s":"D2O","wn":1547,"v":62},{"s":"D2O","wn":1565,"v":72},{"s":"D2O","wn":1580,"v":78},{"s":"D2O","wn":1594,"v":75},{"s":"D2O","wn":1607,"v":75},{"s":"D2O","wn":1630,"v":82},{"s":"D2O","wn":1650,"v":92},{"s":"D2O","wn":1671,"v":100},{"s":"D2O","wn":1690,"v":85},{"s":"D2O","wn":1716,"v":63},{"s":"D2O","wn":1735,"v":55},{"s":"D2O","wn":1749,"v":52},{"s":"D2O","wn":1780,"v":49},{"s":"D2O","wn":1806,"v":48},{"s":"D2O","wn":1900,"v":48},{"s":"D2O","wn":2020,"v":49},{"s":"D2O","wn":2070,"v":52},{"s":"D2O","wn":2110,"v":58},{"s":"D2O","wn":2140,"v":64},{"s":"D2O","wn":2173,"v":67},{"s":"D2O","wn":2200,"v":64},{"s":"D2O","wn":2234,"v":58},{"s":"D2O","wn":2265,"v":54},{"s":"D2O","wn":2301,"v":51},{"s":"D2O","wn":2340,"v":51},{"s":"D2O","wn":2346,"v":53},{"s":"D2O","wn":2352,"v":50},{"s":"D2O","wn":2400,"v":50},{"s":"D2O","wn":2471,"v":50},{"s":"D2O","wn":2560,"v":50},{"s":"D2O","wn":2673,"v":49},{"s":"D2O","wn":2710,"v":52},{"s":"D2O","wn":2740,"v":56},{"s":"D2O","wn":2765,"v":52},{"s":"D2O","wn":2786,"v":51},{"s":"D2O","wn":2810,"v":53},{"s":"D2O","wn":2831,"v":57},{"s":"D2O","wn":2843,"v":70},{"s":"D2O","wn":2854,"v":93},{"s":"D2O","wn":2868,"v":135},{"s":"D2O","wn":2883,"v":170},{"s":"D2O","wn":2897,"v":185},{"s":"D2O","wn":2910,"v":193},{"s":"D2O","wn":2925,"v":230},{"s":"D2O","wn":2939,"v":267},{"s":"D2O","wn":2952,"v":235},{"s":"D2O","wn":2966,"v":193},{"s":"D2O","wn":2983,"v":150},{"s":"D2O","wn":3000,"v":110},{"s":"D2O","wn":3015,"v":80},{"s":"D2O","wn":3033,"v":63},{"s":"D2O","wn":3050,"v":64},{"s":"D2O","wn":3067,"v":72},{"s":"D2O","wn":3080,"v":60},{"s":"D2O","wn":3097,"v":51},{"s":"D2O","wn":3140,"v":50},{"s":"D2O","wn":3191,"v":50},{"s":"D2O","wn":3240,"v":53},{"s":"D2O","wn":3281,"v":57},{"s":"D2O","wn":3320,"v":56},{"s":"D2O","wn":3360,"v":52},{"s":"D2O","wn":3403,"v":48}
],
"sb": [
{"s":"H2O","wn":995,"lo":236,"hi":250},{"s":"H2O","wn":2937,"lo":430,"hi":450},{"s":"D2O+Kan","wn":1000,"lo":185,"hi":193},{"s":"D2O+Carb","wn":1006,"lo":140,"hi":150},{"s":"D2O","wn":725,"lo":68,"hi":83},{"s":"D2O","wn":1006,"lo":85,"hi":95},{"s":"D2O","wn":1060,"lo":0,"hi":62}
]
},
"hconcat": [
{
 "width": 451, "height": 450,
 "title": {"text": "a", "dx": -19},
 "layer": [
  {"data": {"name": "a"}, "mark": {"type": "line", "stroke": "#A6A6A6", "strokeWidth": 8, "clip": true, "strokeJoin": "round"},
   "encoding": {
    "x": {"field": "wn", "type": "quantitative", "scale": {"domain": [300, 3440], "nice": false, "zero": false}, "axis": {"values": [300, 1300, 2300, 3300], "title": "Raman shift (cm-1)"}},
    "y": {"field": "v", "type": "quantitative", "scale": {"domain": [0, 450], "nice": false, "zero": false}, "axis": {"title": "Intensity (a.u.)", "titleX": -29}},
    "detail": {"field": "s"}
   }},
  {"data": {"name": "sa"}, "mark": {"type": "rule", "stroke": "#A6A6A6", "strokeWidth": 3.5, "clip": true},
   "encoding": {
    "x": {"field": "wn", "type": "quantitative", "scale": {"domain": [300, 3440], "nice": false, "zero": false}, "axis": {"values": [300, 1300, 2300, 3300], "title": "Raman shift (cm-1)"}},
    "y": {"field": "lo", "type": "quantitative", "scale": {"domain": [0, 450], "nice": false, "zero": false}, "axis": {"title": "Intensity (a.u.)", "titleX": -29}},
    "y2": {"field": "hi"}
   }},
  {"data": {"name": "a"}, "mark": {"type": "line", "strokeWidth": 2.5, "clip": true, "strokeJoin": "round"},
   "encoding": {
    "x": {"field": "wn", "type": "quantitative", "scale": {"domain": [300, 3440], "nice": false, "zero": false}, "axis": {"values": [300, 1300, 2300, 3300], "title": "Raman shift (cm-1)"}},
    "y": {"field": "v", "type": "quantitative", "scale": {"domain": [0, 450], "nice": false, "zero": false}, "axis": {"title": "Intensity (a.u.)", "titleX": -29}},
    "color": {"field": "s", "type": "nominal", "scale": {"domain": ["H2O", "D2O+Kan", "D2O+Carb", "D2O"], "range": ["#FFC000", "#C00000", "#00B050", "#000000"]}, "legend": {"orient": "none", "legendX": 57, "legendY": -8}}
   }}
 ]
},
{
 "width": 463, "height": 450,
 "title": {"text": "b", "dx": -28},
 "layer": [
  {"data": {"name": "b"}, "mark": {"type": "line", "stroke": "#A6A6A6", "strokeWidth": 8, "clip": true, "strokeJoin": "round"},
   "encoding": {
    "x": {"field": "wn", "type": "quantitative", "scale": {"domain": [300, 3437], "nice": false, "zero": false}, "axis": {"values": [300, 1300, 2300, 3300], "title": "Raman shift (cm-1)"}},
    "y": {"field": "v", "type": "quantitative", "scale": {"domain": [0, 450], "nice": false, "zero": false}, "axis": {"title": "Intensity (a.u.)", "titleX": -31}},
    "detail": {"field": "s"}
   }},
  {"data": {"name": "sb"}, "mark": {"type": "rule", "stroke": "#A6A6A6", "strokeWidth": 3.5, "clip": true},
   "encoding": {
    "x": {"field": "wn", "type": "quantitative", "scale": {"domain": [300, 3437], "nice": false, "zero": false}, "axis": {"values": [300, 1300, 2300, 3300], "title": "Raman shift (cm-1)"}},
    "y": {"field": "lo", "type": "quantitative", "scale": {"domain": [0, 450], "nice": false, "zero": false}, "axis": {"title": "Intensity (a.u.)", "titleX": -31}},
    "y2": {"field": "hi"}
   }},
  {"data": {"name": "b"}, "mark": {"type": "line", "strokeWidth": 2.5, "clip": true, "strokeJoin": "round"},
   "encoding": {
    "x": {"field": "wn", "type": "quantitative", "scale": {"domain": [300, 3437], "nice": false, "zero": false}, "axis": {"values": [300, 1300, 2300, 3300], "title": "Raman shift (cm-1)"}},
    "y": {"field": "v", "type": "quantitative", "scale": {"domain": [0, 450], "nice": false, "zero": false}, "axis": {"title": "Intensity (a.u.)", "titleX": -31}},
    "color": {"field": "s", "type": "nominal", "scale": {"domain": ["H2O", "D2O+Kan", "D2O+Carb", "D2O"], "range": ["#FFC000", "#C00000", "#00B050", "#000000"]}, "legend": {"orient": "none", "legendX": 33.5, "legendY": -10}}
   }}
 ]
}
]
}
